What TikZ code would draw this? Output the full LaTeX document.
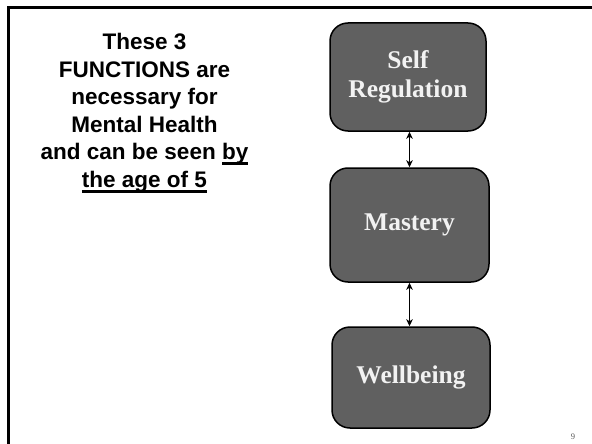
\documentclass[tikz,border=0pt]{standalone}
\usepackage{fontspec}
\setmainfont{Liberation Serif}
\newfontfamily\headfont{Liberation Sans}
\usetikzlibrary{arrows.meta}

% underline with a thick bar a little below the baseline
\newcommand\thickul[1]{\leavevmode\setbox0\hbox{#1}\rlap{\rule[-5.6pt]{\wd0}{2.8pt}}\box0}

\definecolor{boxfill}{HTML}{606060}
\definecolor{boxtext}{HTML}{F2F2F2}

\tikzset{
  stagebox/.style={draw=black, line width=1.5pt, fill=boxfill, rounded corners=18pt,
    text=boxtext, align=center, inner sep=0pt,
    font=\fontsize{25.5}{29}\selectfont\bfseries},
  headline/.style={anchor=base, inner sep=0pt,
    font=\headfont\fontsize{22.5}{27.6}\selectfont\bfseries},
  tip/.style={Stealth[length=7pt,width=6.5pt,inset=2pt]},
  link/.style={line width=1.6pt, {Stealth[length=7pt,width=6.5pt,inset=2pt]}-{Stealth[length=7pt,width=6.5pt,inset=2pt]}},
  frameline/.style={line width=2.8pt, line cap=butt},
}

\begin{document}
\begin{tikzpicture}[x=1pt, y=-1pt]
  \useasboundingbox (0,0) rectangle (592,444);
  \fill[white] (0,0) rectangle (592,444);

  % slide frame along the top and left edges
  \coordinate (fbl) at (8.5,444);
  \coordinate (ftl) at (8.5,7.4);
  \coordinate (ftr) at (592,7.4);
  \draw[frameline] (fbl) -- (ftl) -- (ftr);

  % heading on the left
  \node[headline] (h1) at (144.5,49.5) {These 3};
  \node[headline] (h2) at (144.5,77.5) {FUNCTIONS are};
  \node[headline] (h3) at (144.5,105) {necessary for};
  \node[headline] (h4) at (144.5,132.5) {Mental Health};
  \node[headline] (h5) at (144.5,159.5) {and can be seen \thickul{by}};
  \node[headline] (h6) at (144.5,187) {\thickul{the age of 5}};

  % the three stages
  \node[stagebox, minimum width=156pt, minimum height=108pt] (self) at (408,77) {Self\\Regulation};
  \node[stagebox, minimum width=159pt, minimum height=114pt] (mastery) at (409.5,225) {Mastery};
  \node[stagebox, minimum width=158pt, minimum height=101pt] (well) at (411,377.5) {Wellbeing};

  % two-way links between the stages
  \draw[link] (self.south -| mastery.north) -- (mastery.north);
  \draw[link] (mastery.south) -- (mastery.south |- well.north);

  % page number
  \node[text=black!65, font=\fontsize{8.5}{9}\selectfont, inner sep=0pt] (pg) at (573,437) {9};
\end{tikzpicture}
\end{document}
